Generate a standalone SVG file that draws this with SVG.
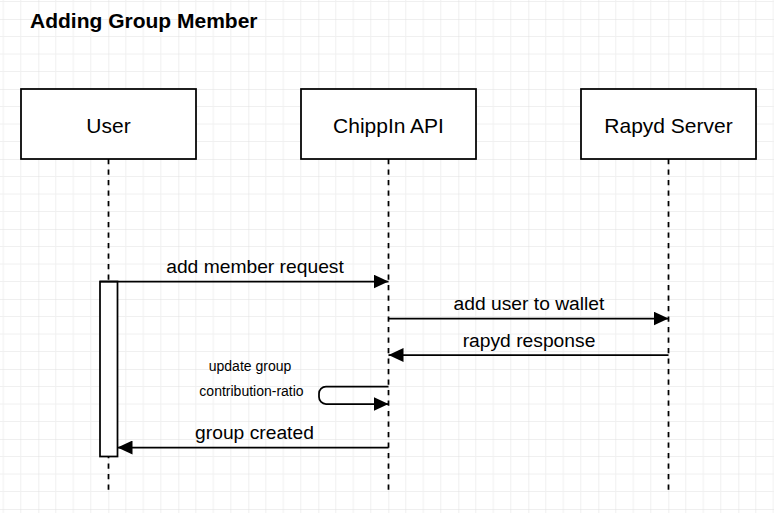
<svg xmlns="http://www.w3.org/2000/svg" width="774" height="513" viewBox="0 0 774 513">
<defs>
<pattern id="grid" patternUnits="userSpaceOnUse" x="38.3" y="19" width="70" height="70">
<path d="M17.5 0V70M35 0V70M52.5 0V70M0 17.5H70M0 35H70M0 52.5H70" stroke="#f0f0f0" stroke-width="1" fill="none"/>
<path d="M0 0V70M0 0H70" stroke="#e0e0e0" stroke-width="1" fill="none"/>
</pattern>
<marker id="arr" markerUnits="userSpaceOnUse" markerWidth="16" markerHeight="14" refX="15" refY="7" orient="auto">
<path d="M0 0L15 7L0 14Z" fill="#000"/>
</marker>
<style>
.box{fill:#fff;stroke:#000;stroke-width:1.75}
.life{stroke:#000;stroke-width:1.75;stroke-dasharray:5.25 5.25;fill:none}
.msg{stroke:#000;stroke-width:1.75;fill:none}
.lbl{font-family:"Liberation Sans",Arial,sans-serif;font-size:21px;fill:#000;text-anchor:middle}
.mlbl{font-family:"Liberation Sans",Arial,sans-serif;font-size:19.25px;fill:#000;text-anchor:middle}
.slbl{font-family:"Liberation Sans",Arial,sans-serif;font-size:14px;fill:#000;text-anchor:middle}
</style>
</defs>
<rect width="774" height="513" fill="#fff"/>
<rect width="774" height="513" fill="url(#grid)"/>
<text x="30" y="27.5" font-family="&quot;Liberation Sans&quot;,Arial,sans-serif" font-size="21" font-weight="bold" fill="#000">Adding Group Member</text>
<g id="lifelines">
<path class="life" d="M108.5 159V490M388.5 159V490M668.5 159V490"/>
</g>
<g id="user">
<rect class="box" x="21" y="89" width="175" height="70"/>
<text class="lbl" x="108.5" y="132.5">User</text>
</g>
<g id="chippin">
<rect class="box" x="301" y="89" width="175" height="70"/>
<text class="lbl" x="388.5" y="132.5">ChippIn API</text>
</g>
<g id="rapyd">
<rect class="box" x="581" y="89" width="175" height="70"/>
<text class="lbl" x="668.5" y="132.5">Rapyd Server</text>
</g>
<g id="activation">
<rect class="box" x="100" y="281.5" width="17.5" height="175"/>
</g>
<g id="connectors">
<path class="msg" d="M100 281.5H388.5" marker-end="url(#arr)"/>
<text class="mlbl" x="255" y="272.5">add member request</text>
<path class="msg" d="M388.5 318.5H668.5" marker-end="url(#arr)"/>
<text class="mlbl" x="529" y="309.5">add user to wallet</text>
<path class="msg" d="M668.5 355H388.5" marker-end="url(#arr)"/>
<text class="mlbl" x="529" y="346.5">rapyd response</text>
<path class="msg" d="M388.5 386.5H326a7 7 0 0 0 -7 7V397a7 7 0 0 0 7 7H388.5" marker-end="url(#arr)"/>
<text class="slbl" x="250" y="371">update group</text>
<text class="slbl" x="251.5" y="395.5">contribution-ratio</text>
<path class="msg" d="M388.5 447.5H117.5" marker-end="url(#arr)"/>
<text class="mlbl" x="254.5" y="439">group created</text>
</g>
</svg>
